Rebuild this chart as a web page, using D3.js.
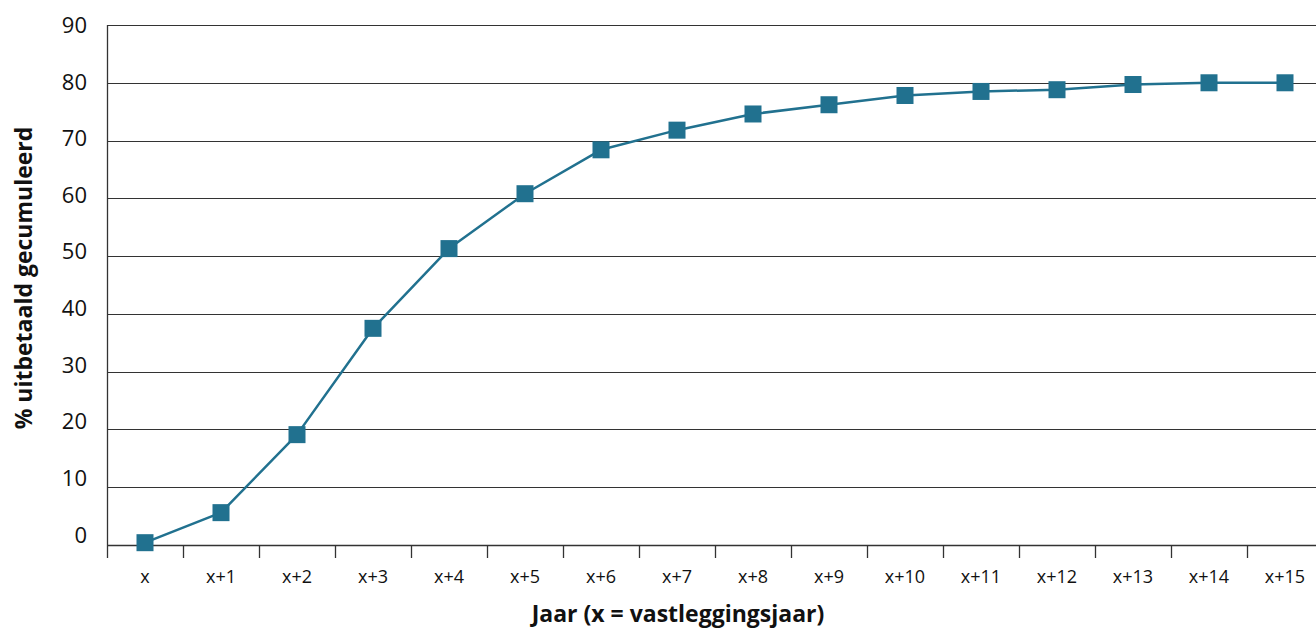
<!DOCTYPE html>
<html>
<head>
<meta charset="utf-8">
<script src="https://cdn.jsdelivr.net/npm/d3@7"></script>
<style>
  html, body { margin: 0; padding: 0; background: #fff; }
  svg { display: block; font-family: "Open Sans", "Noto Sans", sans-serif; }
</style>
</head>
<body>
<svg id="chart" width="1316" height="628"></svg>
<script>
// Cumulative payout share per year after the commitment year
const years = ["x", "x+1", "x+2", "x+3", "x+4", "x+5", "x+6", "x+7", "x+8", "x+9", "x+10", "x+11", "x+12", "x+13", "x+14", "x+15"];
const paidPct = [0.4, 5.6, 19.1, 37.5, 51.3, 60.8, 68.4, 71.8, 74.6, 76.2, 77.8, 78.5, 78.8, 79.7, 80.0, 80.0];
const yTicks = [0, 10, 20, 30, 40, 50, 60, 70, 80, 90];

const svg = d3.select("#chart");
const plotLeft = 107, plotRight = 1323, plotTop = 25, plotBottom = 545;

const x = d3.scaleBand().domain(years).range([plotLeft, plotRight]).padding(0);
const y = d3.scaleLinear().domain([0, 90]).range([plotBottom, plotTop]);
// tick labels sit on a slightly tighter spacing than the gridlines
const yLabel = d3.scaleLinear().domain([0, 90]).range([534.5, 25]);

// horizontal gridlines
svg.append("g")
  .selectAll("line")
  .data(yTicks.filter(d => d > 0))
  .join("line")
  .attr("x1", plotLeft).attr("x2", 1316)
  .attr("y1", d => Math.round(y(d)) + 0.5).attr("y2", d => Math.round(y(d)) + 0.5)
  .attr("stroke", "#333").attr("stroke-width", 1);

// y axis labels
svg.append("g")
  .selectAll("text")
  .data(yTicks)
  .join("text")
  .attr("x", 87)
  .attr("y", d => yLabel(d) + 8)
  .attr("text-anchor", "end")
  .attr("font-size", 22)
  .attr("fill", "#111")
  .text(d => d);

// vertical axis line
svg.append("line")
  .attr("x1", plotLeft + 0.5).attr("x2", plotLeft + 0.5)
  .attr("y1", plotTop).attr("y2", 558)
  .attr("stroke", "#333").attr("stroke-width", 1.3);

// x axis baseline
const xAxis = d3.axisBottom(x).tickSize(0).tickPadding(0).tickFormat("");
const xg = svg.append("g").attr("transform", `translate(0,${plotBottom + 0.5})`).call(xAxis);
xg.select(".domain").attr("stroke", "#333").attr("stroke-width", 1.3).attr("d", `M${plotLeft},0H1316`);
xg.selectAll(".tick").remove();

// tick marks between categories
svg.append("g")
  .selectAll("line")
  .data(years.slice(1))
  .join("line")
  .attr("x1", d => Math.round(x(d)) + 0.5).attr("x2", d => Math.round(x(d)) + 0.5)
  .attr("y1", plotBottom).attr("y2", 558)
  .attr("stroke", "#333").attr("stroke-width", 1.3);

// category labels
svg.append("g")
  .selectAll("text")
  .data(years)
  .join("text")
  .attr("x", d => x(d) + x.bandwidth() / 2)
  .attr("y", 583)
  .attr("text-anchor", "middle")
  .attr("font-size", 18)
  .attr("fill", "#111")
  .text(d => d);

// cumulative line
const pts = years.map((d, i) => [x(d) + x.bandwidth() / 2, y(paidPct[i])]);
svg.append("path")
  .datum(pts)
  .attr("d", d3.line().curve(d3.curveLinear))
  .attr("fill", "none")
  .attr("stroke", "#21718f")
  .attr("stroke-width", 2.5)
  .attr("stroke-linejoin", "round");

// square markers
svg.append("g")
  .selectAll("rect")
  .data(pts)
  .join("rect")
  .attr("x", d => d[0] - 8.5)
  .attr("y", d => d[1] - 8.5)
  .attr("width", 17).attr("height", 17)
  .attr("fill", "#21718f");

// axis titles
svg.append("text")
  .attr("transform", "translate(32,278) rotate(-90)")
  .attr("text-anchor", "middle")
  .attr("font-size", 23)
  .attr("font-weight", "bold")
  .attr("fill", "#111")
  .text("% uitbetaald gecumuleerd");

svg.append("text")
  .attr("x", 678)
  .attr("y", 622)
  .attr("text-anchor", "middle")
  .attr("font-size", 23)
  .attr("font-weight", "bold")
  .attr("fill", "#111")
  .text("Jaar (x = vastleggingsjaar)");
</script>
</body>
</html>
